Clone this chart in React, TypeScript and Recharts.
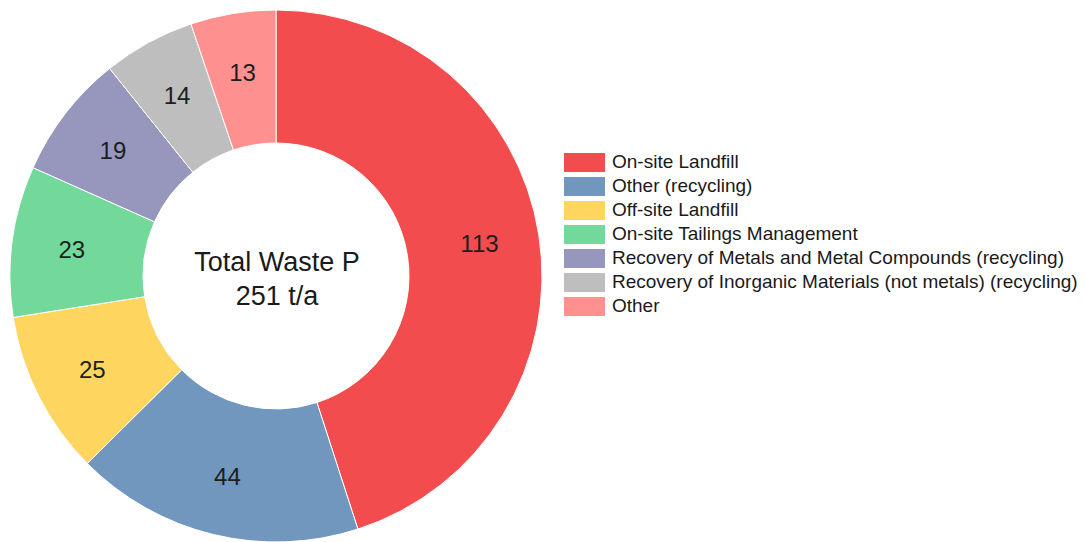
import React from 'react';
import { PieChart, Pie, Cell } from 'recharts';

const categories = [
  'On-site Landfill',
  'Other (recycling)',
  'Off-site Landfill',
  'On-site Tailings Management',
  'Recovery of Metals and Metal Compounds (recycling)',
  'Recovery of Inorganic Materials (not metals) (recycling)',
  'Other',
];
const values = [113, 44, 25, 23, 19, 14, 13];
const colors = ['#F24C4F', '#7297BF', '#FED55F', '#73D99B', '#9797BE', '#BEBEBE', '#FE9090'];
const centerLines = ['Total Waste P', '251 t/a'];

const data = categories.map((name, i) => ({ name, value: values[i] }));

const RADIAN = Math.PI / 180;
const FONT = 'Arial, "Liberation Sans", Helvetica, sans-serif';

const renderLabel = (props: any) => {
  const { cx, cy, midAngle, value } = props;
  const r = 206;
  const x = cx + r * Math.cos(-midAngle * RADIAN);
  const y = cy + r * Math.sin(-midAngle * RADIAN);
  return (
    <text x={x} y={y} textAnchor="middle" dominantBaseline="central" fill="#1e1e1e" fontSize={24} fontFamily={FONT}>
      {value}
    </text>
  );
};

export default function App() {
  return (
    <div style={{ position: 'absolute', left: 0, top: 0, width: 1085, height: 542, background: '#fff' }}>
      <PieChart width={1085} height={542} margin={{ top: 0, right: 0, bottom: 0, left: 0 }}>
        <Pie
          data={data}
          dataKey="value"
          nameKey="name"
          cx={276}
          cy={276}
          innerRadius={133}
          outerRadius={266}
          startAngle={90}
          endAngle={-270}
          stroke="#ffffff"
          strokeWidth={1}
          label={renderLabel}
          labelLine={false}
          isAnimationActive={false}
        >
          {data.map((d, i) => (
            <Cell key={d.name} fill={colors[i]} />
          ))}
        </Pie>
        <text x={277} y={271} textAnchor="middle" fontSize={27} fontFamily={FONT} fill="#1a1a1a">
          {centerLines[0]}
        </text>
        <text x={277} y={305} textAnchor="middle" fontSize={27} fontFamily={FONT} fill="#1a1a1a">
          {centerLines[1]}
        </text>
      </PieChart>
      <div style={{ position: 'absolute', left: 564, top: 150, fontFamily: FONT }}>
        {categories.map((c, i) => (
          <div key={c} style={{ display: 'flex', alignItems: 'center', height: 24 }}>
            <div style={{ width: 41, height: 19, background: colors[i], marginRight: 7 }} />
            <span style={{ fontSize: 19, color: '#1a1a1a', whiteSpace: 'nowrap', lineHeight: '24px' }}>{c}</span>
          </div>
        ))}
      </div>
    </div>
  );
}
